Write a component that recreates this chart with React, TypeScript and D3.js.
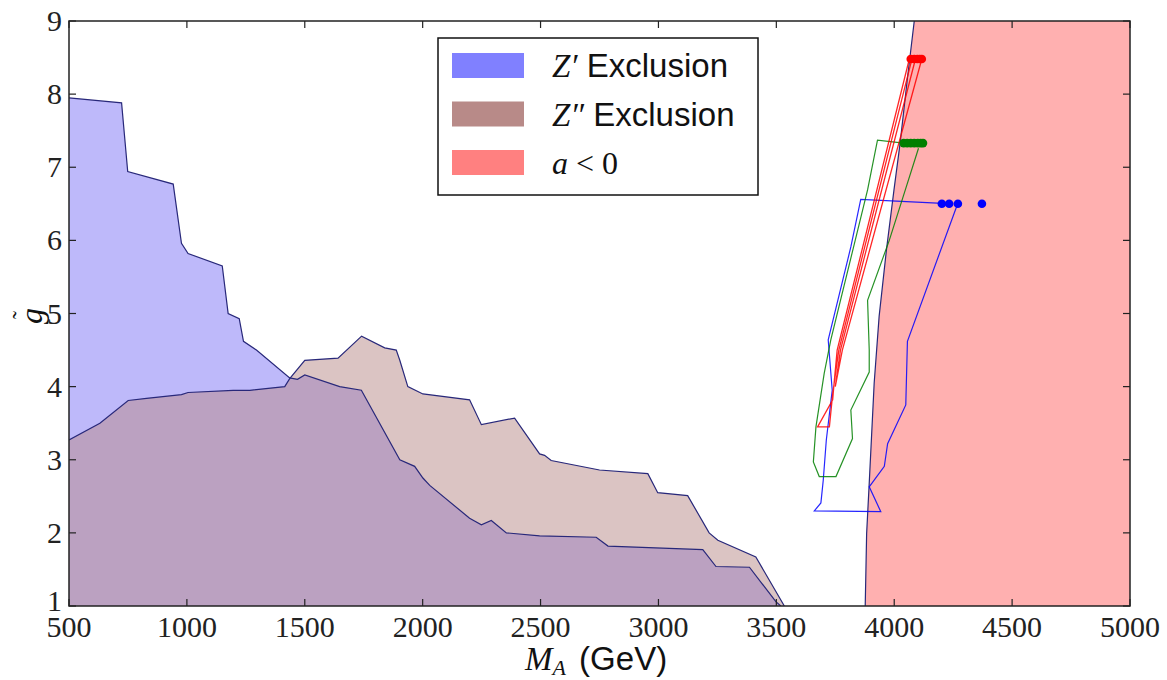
import React from 'react';
import * as d3 from 'd3';

// Z' exclusion upper edge (M_A in GeV, g~)
const zPrimeM = [500, 723, 749, 942, 977, 1005, 1150, 1175, 1222, 1240, 1295, 1436, 1469, 1500, 1648, 1740, 1903, 1966, 2001, 2030, 2199, 2249, 2291, 2355, 2496, 2736, 2786, 3103, 3188, 3244, 3386, 3498, 3519];
const zPrimeG = [7.95, 7.88, 6.94, 6.77, 5.96, 5.82, 5.65, 5.0, 4.93, 4.62, 4.5, 4.12, 4.1, 4.16, 4.0, 3.95, 3.0, 2.91, 2.75, 2.65, 2.2, 2.11, 2.17, 2.0, 1.96, 1.94, 1.82, 1.78, 1.77, 1.54, 1.53, 1.06, 1.0];

// Z'' exclusion upper edge
const zDblM = [500, 631, 751, 829, 977, 1005, 1196, 1267, 1415, 1436, 1500, 1641, 1741, 1839, 1888, 1903, 1937, 2001, 2199, 2249, 2390, 2496, 2517, 2545, 2750, 2955, 2997, 3124, 3215, 3252, 3413, 3534];
const zDblG = [3.27, 3.5, 3.81, 3.84, 3.89, 3.92, 3.95, 3.95, 4.0, 4.11, 4.36, 4.39, 4.69, 4.53, 4.5, 4.36, 4.0, 3.9, 3.82, 3.48, 3.57, 3.08, 3.06, 2.99, 2.86, 2.81, 2.55, 2.51, 2.0, 1.9, 1.67, 1.0];

// a < 0 boundary
const aNegM = [3877, 3883, 3894, 3915, 3936, 3967, 3999, 4025, 4055, 4085];
const aNegG = [1.0, 1.99, 2.68, 4.05, 4.96, 5.87, 6.69, 7.33, 8.19, 9.0];

// trajectories
const blueM = [4270, 4262, 4056, 4049, 3972, 3958, 3894, 3943, 3661, 3689, 3699, 3712, 3737, 3720, 3816, 3858, 4183, 4202];
const blueG = [6.5, 6.44, 4.62, 3.75, 3.22, 2.91, 2.63, 2.29, 2.3, 2.41, 2.72, 3.27, 3.95, 4.64, 5.91, 6.56, 6.51, 6.5];
const blueDotM = [4202, 4233, 4270, 4372];
const blueDotG = [6.5, 6.5, 6.5, 6.5];

const greenM = [4103, 4047, 3979, 3887, 3894, 3894, 3816, 3823, 3753, 3682, 3657, 3668, 3703, 3731, 3887, 3929, 4040];
const greenG = [7.26, 6.69, 6.0, 5.18, 4.5, 4.2, 3.68, 3.29, 2.77, 2.77, 2.97, 3.45, 4.18, 4.64, 6.69, 7.37, 7.33];
const greenDotM = [4040, 4055, 4070, 4085, 4100, 4112, 4122];
const greenDotG = [7.33, 7.33, 7.33, 7.33, 7.33, 7.33, 7.33];

const redM = [4064, 3758, 3745, 3739, 3675, 3725, 3739, 3765, 4075, 4090, 3772, 3750, 3780, 4117];
const redG = [8.48, 4.5, 4.05, 3.82, 3.45, 3.45, 3.9, 4.5, 8.48, 8.48, 4.5, 4.0, 4.5, 8.48];
const redDotM = [4070, 4085, 4098, 4108, 4117];
const redDotG = [8.48, 8.48, 8.48, 8.48, 8.48];

const xTicks = [500, 1000, 1500, 2000, 2500, 3000, 3500, 4000, 4500, 5000];
const yTicks = [1, 2, 3, 4, 5, 6, 7, 8, 9];

const legendItems = [
  { sym: "Z′", rest: " Exclusion", color: '#8080ff' },
  { sym: "Z″", rest: " Exclusion", color: '#b88a88' },
  { sym: "a", rest: "", color: '#ff8080' },
];

const zip = (a: number[], b: number[]) => a.map((v, i) => [v, b[i]] as [number, number]);

export default function App() {
  const x = d3.scaleLinear().domain([500, 5000]).range([69, 1130]);
  const y = d3.scaleLinear().domain([1, 9]).range([606, 21]);

  const area = d3.area<[number, number]>().x(d => x(d[0])).y0(y(1)).y1(d => y(d[1]));
  const line = d3.line<[number, number]>().x(d => x(d[0])).y(d => y(d[1]));

  const zp = zip(zPrimeM, zPrimeG);
  const zd = zip(zDblM, zDblG);
  const an = zip(aNegM, aNegG);
  // red region: boundary then right edge
  const redPoly = [...an, [5000, 9], [5000, 1]] as [number, number][];

  const serif = '"Liberation Serif", "DejaVu Serif", serif';
  const sans = '"Liberation Sans", Arial, sans-serif';
  const edge = '#28287a';

  return (
    <svg width={1167} height={680} style={{ position: 'absolute', left: 0, top: 0, background: '#fff' }}>
      <defs>
        <clipPath id="plot"><rect x={69} y={21} width={1061} height={585} /></clipPath>
      </defs>
      <g clipPath="url(#plot)">
        <path d={area(zp) || ''} fill="#beb9fa" />
        <path d={area(zd) || ''} fill="#b88a88" fillOpacity={0.5} />
        <path d={line(zp) || ''} fill="none" stroke={edge} strokeWidth={1.2} />
        <path d={line(zd) || ''} fill="none" stroke={edge} strokeWidth={1.2} />
        <path d={(line(redPoly) || '') + 'Z'} fill="#ffb0b0" />
        <path d={line(an) || ''} fill="none" stroke={edge} strokeWidth={1.2} />

        <path d={line(zip(blueM, blueG)) || ''} fill="none" stroke="#0000ff" strokeWidth={1.2} strokeOpacity={0.85} />
        <path d={line(zip(greenM, greenG)) || ''} fill="none" stroke="#007f00" strokeWidth={1.2} strokeOpacity={0.85} />
        <path d={line(zip(redM, redG)) || ''} fill="none" stroke="#ff0000" strokeWidth={1.3} strokeOpacity={0.85} />
        {blueDotM.map((m, i) => <circle key={'b' + i} cx={x(m)} cy={y(blueDotG[i])} r={4.3} fill="#0000ff" />)}
        {greenDotM.map((m, i) => <circle key={'g' + i} cx={x(m)} cy={y(greenDotG[i])} r={4.3} fill="#007f00" />)}
        {redDotM.map((m, i) => <circle key={'r' + i} cx={x(m)} cy={y(redDotG[i])} r={4.3} fill="#ff0000" />)}
      </g>

      {/* frame + ticks */}
      <rect x={69} y={21} width={1061} height={585} fill="none" stroke="#222" strokeWidth={1.5} />
      {xTicks.map(t => (
        <g key={'x' + t}>
          <line x1={x(t)} x2={x(t)} y1={606} y2={599} stroke="#222" strokeWidth={1.2} />
          <line x1={x(t)} x2={x(t)} y1={21} y2={28} stroke="#222" strokeWidth={1.2} />
          <text x={x(t)} y={637} textAnchor="middle" fontFamily={serif} fontSize={30} fill="#222">{t}</text>
        </g>
      ))}
      {yTicks.map(t => (
        <g key={'y' + t}>
          <line x1={69} x2={76} y1={y(t)} y2={y(t)} stroke="#222" strokeWidth={1.2} />
          <line x1={1130} x2={1123} y1={y(t)} y2={y(t)} stroke="#222" strokeWidth={1.2} />
          <text x={62} y={y(t) + (t === 1 ? 5 : 10)} textAnchor="end" fontFamily={serif} fontSize={30} fill="#222">{t}</text>
        </g>
      ))}

      {/* axis labels */}
      <text x={525} y={670} fontSize={33} fill="#111">
        <tspan fontFamily={serif} fontStyle="italic">M</tspan>
        <tspan fontFamily={serif} fontStyle="italic" fontSize={22} dy={5}>A</tspan>
        <tspan fontFamily={sans} dy={-5} dx={4}> (GeV)</tspan>
      </text>
      <g transform="translate(42,316) rotate(-90)">
        <text x={0} y={0} textAnchor="middle" fontFamily={serif} fontStyle="italic" fontSize={32} fill="#111">g</text>
        <text x={1} y={-13} textAnchor="middle" fontFamily={serif} fontSize={24} fill="#111">˜</text>
      </g>

      {/* legend */}
      <rect x={438} y={38} width={320} height={157} fill="#fff" stroke="#111" strokeWidth={1.5} />
      {legendItems.map((it, i) => (
        <g key={'l' + i}>
          <rect x={452} y={53 + i * 48.5} width={72} height={25} fill={it.color} />
          {i < 2 ? (
            <text x={552} y={77 + i * 48.5} fontSize={33} fill="#111">
              <tspan fontFamily={serif} fontStyle="italic">{it.sym}</tspan>
              <tspan fontFamily={sans}>{it.rest}</tspan>
            </text>
          ) : (
            <text x={552} y={77 + i * 48.5} fontSize={32} fill="#111" fontFamily={serif}>
              <tspan fontStyle="italic">a</tspan>
              <tspan> {'<'} 0</tspan>
            </text>
          )}
        </g>
      ))}
    </svg>
  );
}
